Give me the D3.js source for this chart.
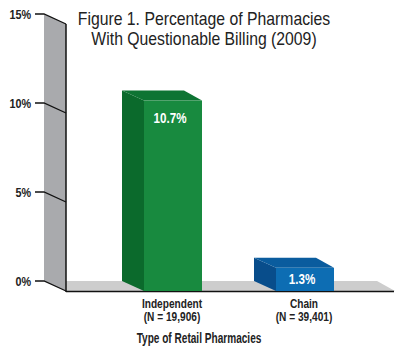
<!DOCTYPE html>
<html>
<head>
<meta charset="utf-8">
<script src="https://cdn.jsdelivr.net/npm/d3@7"></script>
<style>
  body { margin: 0; background: #fff; }
  .cond { font-family: "Liberation Sans", Arial, sans-serif; }
</style>
</head>
<body>
<div id="chart"></div>
<script>
// chart values
var categories = ["Independent", "Chain"];
var counts = ["(N = 19,906)", "(N = 39,401)"];
var values = [10.7, 1.3];
var tickValues = [0, 5, 10, 15];
var titleLines = ["Figure 1. Percentage of Pharmacies", "With Questionable Billing (2009)"];
var xTitle = "Type of Retail Pharmacies";

var fullWidth = 404, fullHeight = 354;

// depth offset of the fake 3d look
var dx = 22, dy = 10;

var svg = d3.select("#chart")
    .append("svg")
    .attr("width", fullWidth)
    .attr("height", fullHeight);

// y on the back plane
var y = d3.scaleLinear()
    .domain([0, 15])
    .range([281, 14]);

var x = d3.scalePoint()
    .domain(categories)
    .range([173, 305]);

var barWidth = 58;
var wallX = 44;
var floorY = y(0) + dy;

var colors = {
  Independent: {front: "#188a3f", side: "#0b6a2c", top: "#0e7433"},
  Chain: {front: "#0d6db3", side: "#084d8b", top: "#0a5c9e"}
};

// the original uses a condensed face, so squeeze Liberation Sans a bit
function squeeze(sel, ratio) {
  sel.each(function() {
    var w = this.getComputedTextLength();
    d3.select(this)
        .attr("textLength", w * ratio)
        .attr("lengthAdjust", "spacingAndGlyphs");
  });
}

// floor
svg.append("polygon")
    .attr("points", [[wallX, y(0)], [377, y(0)], [377 + 18, floorY], [wallX + dx, floorY]].join(" "))
    .attr("fill", "#cdcdcd");

svg.append("line")
    .attr("x1", wallX + dx).attr("x2", 394)
    .attr("y1", floorY + 0.5).attr("y2", floorY + 0.5)
    .attr("stroke", "#111").attr("stroke-width", 1.5);

// back wall
svg.append("polygon")
    .attr("points", [[wallX, y(15)], [wallX + dx, y(15) + dy], [wallX + dx, floorY], [wallX, y(0)]].join(" "))
    .attr("fill", "#a9aaad");

svg.append("line")
    .attr("x1", wallX + dx).attr("x2", wallX + dx)
    .attr("y1", y(15) + dy).attr("y2", floorY + 1)
    .attr("stroke", "#111").attr("stroke-width", 1.5);

// ticks
var ticks = svg.append("g").attr("class", "ticks");

ticks.selectAll("path")
    .data(tickValues)
    .enter()
    .append("path")
    .attr("d", function(d) {
      return "M" + (wallX - 9) + "," + y(d) + "L" + wallX + "," + y(d) + "L" + (wallX + dx) + "," + (y(d) + dy);
    })
    .attr("fill", "none")
    .attr("stroke", "#111")
    .attr("stroke-width", 1.3);

ticks.selectAll("text")
    .data(tickValues)
    .enter()
    .append("text")
    .attr("class", "cond")
    .attr("x", 31)
    .attr("y", function(d) { return y(d); })
    .attr("dy", "0.36em")
    .attr("text-anchor", "end")
    .attr("font-size", 13)
    .attr("font-weight", "bold")
    .attr("fill", "#222")
    .text(function(d) { return d + "%"; })
    .call(squeeze, 0.83);

// bars
var bars = svg.selectAll(".bar")
    .data(values)
    .enter()
    .append("g")
    .attr("class", "bar");

bars.each(function(v, i) {
  var g = d3.select(this);
  var c = colors[categories[i]];
  var x0 = x(categories[i]) - barWidth / 2,
      x1 = x(categories[i]) + barWidth / 2;
  var yb = y(v), yf = y(v) + dy;

  // side face
  g.append("polygon")
      .attr("points", [[x0 - dx, yb], [x0, yf], [x0, floorY], [x0 - dx, y(0)]].join(" "))
      .attr("fill", c.side);
  // top face
  g.append("polygon")
      .attr("points", [[x0 - dx, yb], [x1 - 18, yb], [x1, yf], [x0, yf]].join(" "))
      .attr("fill", c.top);
  // front face
  g.append("rect")
      .attr("x", x0)
      .attr("y", yf)
      .attr("width", x1 - x0)
      .attr("height", floorY - yf)
      .attr("fill", c.front);

  g.append("text")
      .attr("class", "cond")
      .attr("x", x(categories[i]) - 3)
      .attr("y", Math.min(yf + 17, (yf + floorY) / 2))
      .attr("dy", "0.36em")
      .attr("text-anchor", "middle")
      .attr("font-size", 14)
      .attr("font-weight", "bold")
      .attr("fill", "#fff")
      .text(v + "%")
      .call(squeeze, 0.83);
});

// category labels, two lines each
var labels = svg.selectAll(".cat")
    .data(categories)
    .enter()
    .append("g")
    .attr("class", "cat");

labels.append("text")
    .attr("class", "cond")
    .attr("x", function(d) { return x(d) - 1; })
    .attr("y", 308)
    .attr("text-anchor", "middle")
    .attr("font-size", 12.5)
    .attr("font-weight", "bold")
    .attr("fill", "#222")
    .text(function(d) { return d; })
    .call(squeeze, 0.81);

labels.append("text")
    .attr("class", "cond")
    .attr("x", function(d) { return x(d) - 1; })
    .attr("y", 321)
    .attr("text-anchor", "middle")
    .attr("font-size", 12.5)
    .attr("font-weight", "bold")
    .attr("fill", "#222")
    .text(function(d, i) { return counts[i]; })
    .call(squeeze, 0.81);

svg.append("text")
    .attr("class", "cond")
    .attr("x", 199)
    .attr("y", 343)
    .attr("text-anchor", "middle")
    .attr("font-size", 14)
    .attr("font-weight", "bold")
    .attr("fill", "#222")
    .text(xTitle)
    .call(squeeze, 0.72);

// title
svg.selectAll(".title")
    .data(titleLines)
    .enter()
    .append("text")
    .attr("class", "cond title")
    .attr("x", 204)
    .attr("y", function(d, i) { return 25 + i * 20; })
    .attr("text-anchor", "middle")
    .attr("font-size", 19)
    .attr("fill", "#222")
    .text(function(d) { return d; })
    .call(squeeze, 0.83);
</script>
</body>
</html>
